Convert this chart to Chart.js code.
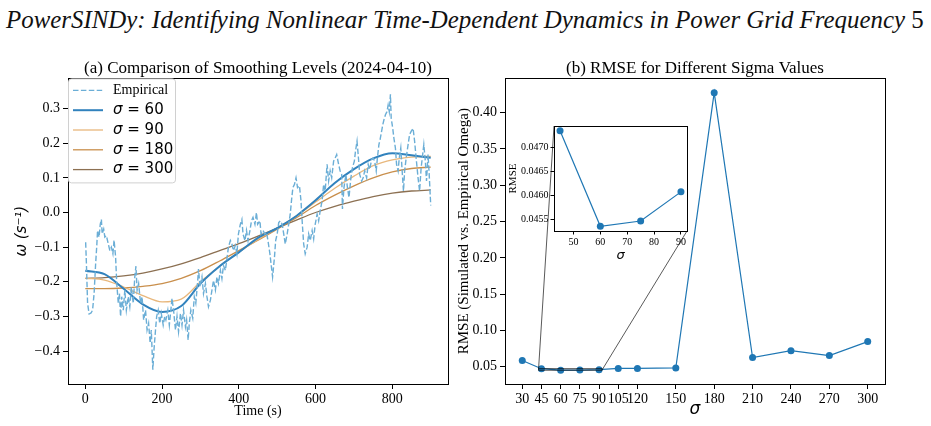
<!DOCTYPE html>
<html>
<head>
<meta charset="utf-8">
<script src="https://cdn.jsdelivr.net/npm/chart.js@4.4.1/dist/chart.umd.min.js"></script>
<style>
html, body { margin: 0; padding: 0; background: #fff; }
#page { position: relative; width: 931px; height: 426px; overflow: hidden; }
#header { position: absolute; left: 6px; top: 2px; font-family: 'Liberation Serif', serif; font-size: 24.9px; line-height: 36px; white-space: nowrap; color: #111; }
#header i { font-style: italic; }
canvas { position: absolute; }
</style>
</head>
<body>
<div id="page">
  <div id="header"><i>PowerSINDy: Identifying Nonlinear Time-Dependent Dynamics in Power Grid Frequency</i> 5</div>
  <canvas id="left" width="450" height="376" style="left:0;top:50px"></canvas>
  <canvas id="right" width="481" height="376" style="left:450px;top:50px"></canvas>
  <canvas id="inset" width="190" height="150" style="left:505px;top:118px"></canvas>
</div>
<script>
// (a) empirical omega
const empTime = [1, 3, 6, 10, 15, 19, 23, 27, 30, 32, 36, 39, 42, 44, 48, 51, 55, 60, 64, 68, 72, 75, 79, 82, 86, 89, 92, 95, 99, 103, 107, 112, 116, 120, 125, 129, 132, 135, 139, 144, 148, 152, 157, 161, 165, 169, 172, 176, 179, 183, 186, 190, 194, 198, 203, 207, 210, 215, 219, 226, 230, 235, 239, 243, 248, 252, 256, 261, 264, 268, 271, 275, 280, 284, 288, 293, 295, 299, 304, 308, 313, 317, 321, 326, 330, 334, 339, 343, 347, 352, 356, 360, 365, 369, 373, 378, 382, 386, 391, 395, 399, 404, 408, 411, 416, 420, 424, 429, 433, 437, 442, 446, 449, 455, 458, 463, 468, 472, 476, 481, 484, 488, 493, 496, 500, 504, 508, 513, 517, 521, 526, 530, 534, 538, 541, 545, 549, 553, 558, 562, 565, 569, 573, 578, 582, 586, 591, 595, 599, 604, 608, 612, 617, 621, 625, 630, 634, 638, 642, 647, 651, 655, 660, 664, 668, 670, 674, 679, 683, 687, 692, 696, 701, 704, 708, 711, 715, 720, 724, 728, 733, 737, 741, 746, 750, 754, 758, 761, 765, 768, 772, 775, 778, 782, 786, 789, 792, 795, 797, 801, 804, 808, 811, 815, 818, 822, 825, 829, 832, 836, 841, 845, 849, 854, 858, 862, 867, 871, 875, 879, 882, 886, 889, 893, 896, 900];
const empOmega = [-0.086, -0.148, -0.262, -0.293, -0.29, -0.282, -0.234, -0.148, -0.095, -0.052, -0.071, -0.034, -0.02, -0.062, -0.048, -0.071, -0.067, -0.091, -0.11, -0.1, -0.119, -0.08, -0.128, -0.205, -0.262, -0.234, -0.3, -0.243, -0.282, -0.224, -0.282, -0.243, -0.272, -0.215, -0.262, -0.186, -0.155, -0.224, -0.205, -0.262, -0.243, -0.31, -0.282, -0.339, -0.32, -0.377, -0.339, -0.454, -0.396, -0.339, -0.3, -0.282, -0.32, -0.291, -0.325, -0.3, -0.31, -0.282, -0.325, -0.248, -0.282, -0.339, -0.3, -0.344, -0.291, -0.325, -0.282, -0.33, -0.31, -0.368, -0.32, -0.282, -0.305, -0.243, -0.262, -0.196, -0.163, -0.215, -0.186, -0.234, -0.205, -0.243, -0.272, -0.253, -0.224, -0.196, -0.224, -0.186, -0.205, -0.167, -0.191, -0.153, -0.167, -0.134, -0.1, -0.081, -0.091, -0.11, -0.095, -0.119, -0.062, -0.034, -0.02, -0.062, -0.081, -0.052, -0.081, -0.052, -0.024, -0.014, -0.034, 0.0, -0.034, -0.024, -0.062, -0.052, -0.062, -0.057, -0.081, -0.119, -0.148, -0.186, -0.128, -0.081, -0.062, -0.029, -0.024, -0.034, -0.062, -0.091, -0.062, -0.034, -0.005, 0.043, 0.072, 0.081, 0.1, 0.072, 0.077, 0.034, -0.024, -0.091, -0.119, -0.1, -0.062, -0.081, -0.052, -0.076, -0.034, -0.005, -0.024, 0.005, 0.034, 0.081, 0.062, 0.139, 0.091, 0.12, 0.1, 0.148, 0.157, 0.167, 0.139, 0.12, 0.11, 0.01, 0.072, 0.11, 0.072, 0.043, 0.1, 0.129, 0.148, 0.177, 0.206, 0.167, 0.11, 0.091, 0.1, 0.12, 0.1, 0.139, 0.124, 0.153, 0.157, 0.148, 0.12, 0.157, 0.196, 0.21, 0.234, 0.253, 0.267, 0.282, 0.291, 0.31, 0.291, 0.341, 0.272, 0.243, 0.215, 0.186, 0.139, 0.12, 0.157, 0.186, 0.129, 0.062, 0.12, 0.157, 0.196, 0.225, 0.234, 0.243, 0.206, 0.157, 0.1, 0.062, 0.129, 0.167, 0.196, 0.148, 0.091, 0.167, 0.11, 0.02];

// (a) smoothed curves
const smoothTime = [0, 50, 100, 150, 200, 250, 300, 350, 400, 450, 500, 550, 600, 650, 700, 750, 800, 850, 900];
const sigma60 = [-0.168, -0.178, -0.22, -0.265, -0.287, -0.27, -0.205, -0.155, -0.115, -0.073, -0.045, -0.01, 0.035, 0.085, 0.125, 0.156, 0.171, 0.165, 0.158];
const sigma90 = [-0.19, -0.195, -0.215, -0.24, -0.258, -0.25, -0.2, -0.155, -0.115, -0.078, -0.045, -0.01, 0.03, 0.07, 0.105, 0.135, 0.152, 0.16, 0.162];
const sigma180 = [-0.22, -0.22, -0.218, -0.213, -0.205, -0.19, -0.168, -0.14, -0.11, -0.08, -0.048, -0.015, 0.02, 0.05, 0.077, 0.1, 0.117, 0.127, 0.131];
const sigma300 = [-0.19, -0.188, -0.183, -0.175, -0.163, -0.148, -0.13, -0.11, -0.09, -0.068, -0.045, -0.022, 0.0, 0.018, 0.033, 0.046, 0.056, 0.062, 0.065];

// (b) RMSE per sigma
const sigmaValues = [30, 45, 60, 75, 90, 105, 120, 150, 180, 210, 240, 270, 300];
const rmseValues = [0.0586, 0.04735, 0.04535, 0.04546, 0.04607, 0.0478, 0.0478, 0.0484, 0.4275, 0.0628, 0.0722, 0.0655, 0.0847];

// tick labels
const timeTicks = [0, 200, 400, 600, 800];
const omegaTicks = [-0.4, -0.3, -0.2, -0.1, 0.0, 0.1, 0.2, 0.3];
const rmseTicks = [0.05, 0.10, 0.15, 0.20, 0.25, 0.30, 0.35, 0.40];
const insetSigmaTicks = [50, 60, 70, 80, 90];
const insetRmseTicks = [0.0455, 0.0460, 0.0465, 0.0470];

const serif = "'Liberation Serif', 'Times New Roman', serif";
const sans = "'DejaVu Sans', sans-serif";

const fixedTicks = arr => scale => { scale.ticks = arr.map(v => ({ value: v })); };
const minus = s => s.replace('-', '\u2212');

function axisStyle(tickLen) {
  return {
    grid: { display: true, drawOnChartArea: false, drawTicks: true, tickLength: tickLen, color: '#000', lineWidth: 1 },
    border: { display: true, color: '#000', width: 1 }
  };
}

const framePlugin = {
  id: 'frame',
  beforeDraw(chart, args, opts) {
    if (!opts.fill) return;
    const a = chart.chartArea;
    chart.ctx.save();
    chart.ctx.fillStyle = '#fff';
    chart.ctx.fillRect(a.left, a.top, a.width, a.height);
    chart.ctx.restore();
  },
  afterDatasetsDraw(chart) {
    const { ctx, chartArea: a } = chart;
    ctx.save();
    ctx.strokeStyle = '#000';
    ctx.lineWidth = 1;
    ctx.strokeRect(Math.round(a.left) + 0.5, Math.round(a.top) + 0.5, Math.round(a.width), Math.round(a.height));
    ctx.restore();
  }
};

const boxLegend = {
  id: 'boxLegend',
  afterDatasetsDraw(chart) {
    const { ctx, chartArea: a } = chart;
    const x0 = a.left + 0.5, y0 = a.top + 0.5, w = 107, h = 104;
    ctx.save();
    ctx.beginPath();
    ctx.roundRect(x0, y0, w, h, 3);
    ctx.fillStyle = 'rgba(255,255,255,0.8)';
    ctx.fill();
    ctx.strokeStyle = '#d0d0d0';
    ctx.lineWidth = 1;
    ctx.stroke();
    chart.data.datasets.forEach((ds, i) => {
      const y = a.top + 12 + i * 19.8;
      ctx.beginPath();
      ctx.setLineDash(ds.borderDash || []);
      ctx.strokeStyle = ds.borderColor;
      ctx.lineWidth = ds.borderWidth;
      ctx.moveTo(a.left + 5, y);
      ctx.lineTo(a.left + 35, y);
      ctx.stroke();
      ctx.setLineDash([]);
      ctx.fillStyle = '#000';
      ctx.textBaseline = 'middle';
      const tx = a.left + 45;
      if (ds.label.startsWith('σ')) {
        ctx.font = 'italic 15px ' + sans;
        ctx.fillText('σ', tx, y);
        const sw = ctx.measureText('σ').width;
        ctx.font = '15px ' + sans;
        ctx.fillText(ds.label.slice(1), tx + sw, y);
      } else {
        ctx.font = '14px ' + serif;
        ctx.fillText(ds.label, tx, y);
      }
    });
    ctx.restore();
  }
};

const pts = (xs, ys) => xs.map((x, i) => ({ x: x, y: ys[i] }));

// ---------- (a) ----------
const leftChart = new Chart(document.getElementById('left'), {
  type: 'line',
  data: {
    datasets: [
      { label: 'Empirical', data: pts(empTime, empOmega), borderColor: '#6baed6', borderWidth: 1.4, borderDash: [5.5, 2.4], pointRadius: 0, tension: 0 },
      { label: 'σ = 60', data: pts(smoothTime, sigma60), borderColor: '#3182bd', borderWidth: 2, pointRadius: 0, cubicInterpolationMode: 'monotone' },
      { label: 'σ = 90', data: pts(smoothTime, sigma90), borderColor: '#e8b77c', borderWidth: 1.3, pointRadius: 0, cubicInterpolationMode: 'monotone' },
      { label: 'σ = 180', data: pts(smoothTime, sigma180), borderColor: '#c98f4c', borderWidth: 1.3, pointRadius: 0, cubicInterpolationMode: 'monotone' },
      { label: 'σ = 300', data: pts(smoothTime, sigma300), borderColor: '#8c7052', borderWidth: 1.3, pointRadius: 0, cubicInterpolationMode: 'monotone' }
    ]
  },
  options: {
    responsive: false,
    animation: false,
    events: [],
    layout: { padding: { left: 0, right: 2, top: 0, bottom: 0 } },
    plugins: {
      legend: { display: false },
      tooltip: { enabled: false },
      title: { display: true, fullSize: false, text: '(a) Comparison of Smoothing Levels (2024-04-10)', color: '#000', font: { family: serif, size: 17, weight: 'normal', lineHeight: 1.2 }, padding: { top: 8, bottom: 0 } }
    },
    scales: {
      x: {
        type: 'linear', min: -45, max: 945,
        afterBuildTicks: fixedTicks(timeTicks),
        afterFit: s => { s.height = 42; },
        ticks: { color: '#000', font: { family: serif, size: 14 }, padding: 2, maxRotation: 0, autoSkip: false },
        title: { display: true, text: 'Time (s)', color: '#000', font: { family: serif, size: 14, lineHeight: 1.2 }, padding: { top: 0, bottom: 6 } },
        ...axisStyle(5)
      },
      y: {
        type: 'linear', min: -0.495, max: 0.387,
        afterBuildTicks: fixedTicks(omegaTicks),
        afterFit: s => { s.width = 68; },
        ticks: { color: '#000', font: { family: serif, size: 14 }, padding: 3, callback: v => minus(v.toFixed(1)) },
        title: { display: true, text: 'ω (s⁻¹)', color: '#000', font: { family: sans, size: 15, style: 'italic', lineHeight: 1.2 }, padding: { top: 13, bottom: 0 } },
        ...axisStyle(5)
      }
    }
  },
  plugins: [framePlugin, boxLegend]
});

// ---------- inset ----------
const insetLeft = 505, insetTop = 118, mainLeft = 450, mainTop = 50;
const insetX = { min: 42.75, max: 92.25 };
const insetY = { min: 0.04525, max: 0.04745 };

const insetChart = new Chart(document.getElementById('inset'), {
  type: 'line',
  data: {
    datasets: [{ data: pts(sigmaValues.slice(1, 5), rmseValues.slice(1, 5)), borderColor: '#1f77b4', backgroundColor: '#1f77b4', borderWidth: 1.2, pointRadius: 3.5, pointBorderWidth: 0, tension: 0 }]
  },
  options: {
    responsive: false,
    animation: false,
    events: [],
    layout: { padding: { left: 0, right: 8, top: 6, bottom: 0 } },
    plugins: { legend: { display: false }, tooltip: { enabled: false }, frame: { fill: true } },
    scales: {
      x: {
        type: 'linear', min: insetX.min, max: insetX.max,
        afterBuildTicks: fixedTicks(insetSigmaTicks),
        afterFit: s => { s.height = 37; },
        ticks: { color: '#000', font: { family: serif, size: 10 }, padding: 2, maxRotation: 0, autoSkip: false },
        title: { display: true, text: 'σ', color: '#000', font: { family: sans, size: 13, style: 'italic', lineHeight: 1.2 }, padding: { top: 0, bottom: 5 } },
        ...axisStyle(3.5)
      },
      y: {
        type: 'linear', min: insetY.min, max: insetY.max,
        afterBuildTicks: fixedTicks(insetRmseTicks),
        afterFit: s => { s.width = 49; },
        ticks: { color: '#000', font: { family: serif, size: 10 }, padding: 2, callback: v => v.toFixed(4) },
        title: { display: true, text: 'RMSE', color: '#000', font: { family: serif, size: 11, lineHeight: 1.2 }, padding: { top: 2, bottom: 0 } },
        ...axisStyle(3.5)
      }
    }
  },
  plugins: [framePlugin]
});

const zoomMarks = {
  id: 'zoomMarks',
  afterDatasetsDraw(chart) {
    const { ctx, scales: { x, y } } = chart;
    const ia = insetChart.chartArea;
    const dx = insetLeft - mainLeft, dy = insetTop - mainTop;
    const rx0 = x.getPixelForValue(insetX.min), rx1 = x.getPixelForValue(insetX.max);
    const ry0 = y.getPixelForValue(insetY.max), ry1 = y.getPixelForValue(insetY.min);
    ctx.save();
    ctx.strokeStyle = 'rgba(0,0,0,0.65)';
    ctx.lineWidth = 1;
    ctx.strokeRect(rx0, ry0, rx1 - rx0, ry1 - ry0);
    ctx.beginPath();
    ctx.moveTo(rx0, ry0);
    ctx.lineTo(ia.left + dx, ia.top + dy);
    ctx.moveTo(rx1, ry1);
    ctx.lineTo(ia.right + dx, ia.bottom + dy);
    ctx.stroke();
    ctx.restore();
  }
};

// ---------- (b) ----------
const rightChart = new Chart(document.getElementById('right'), {
  type: 'line',
  data: {
    datasets: [{ data: pts(sigmaValues, rmseValues), borderColor: '#1f77b4', backgroundColor: '#1f77b4', borderWidth: 1.2, pointRadius: 3.5, pointBorderWidth: 0, tension: 0 }]
  },
  options: {
    responsive: false,
    animation: false,
    events: [],
    layout: { padding: { left: 0, right: 46, top: 0, bottom: 0 } },
    plugins: {
      legend: { display: false },
      tooltip: { enabled: false },
      title: { display: true, fullSize: false, text: '(b) RMSE for Different Sigma Values', color: '#000', font: { family: serif, size: 17, weight: 'normal', lineHeight: 1.2 }, padding: { top: 8, bottom: 0 } }
    },
    scales: {
      x: {
        type: 'linear', min: 16.5, max: 313.5,
        afterBuildTicks: fixedTicks(sigmaValues),
        afterFit: s => { s.height = 42; },
        ticks: { color: '#000', font: { family: serif, size: 14 }, padding: 2, maxRotation: 0, autoSkip: false },
        title: { display: true, text: 'σ', color: '#000', font: { family: sans, size: 17, style: 'italic', lineHeight: 1.2 }, padding: { top: 0, bottom: 6 } },
        ...axisStyle(5)
      },
      y: {
        type: 'linear', min: 0.0263, max: 0.4471,
        afterBuildTicks: fixedTicks(rmseTicks),
        afterFit: s => { s.width = 55; },
        ticks: { color: '#000', font: { family: serif, size: 14 }, padding: 3, callback: v => v.toFixed(2) },
        title: { display: true, text: 'RMSE (Simulated vs. Empirical Omega)', color: '#000', font: { family: serif, size: 15, lineHeight: 1.2 }, padding: { top: 5, bottom: 0 } },
        ...axisStyle(5)
      }
    }
  },
  plugins: [framePlugin, zoomMarks]
});
</script>
</body>
</html>
